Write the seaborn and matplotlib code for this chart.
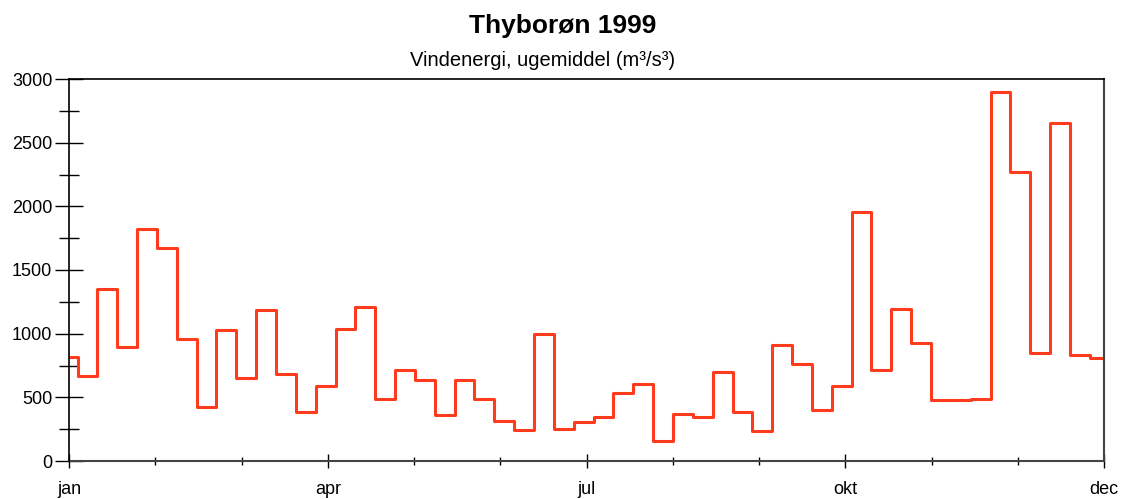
import matplotlib
matplotlib.use("Agg")
import matplotlib.pyplot as plt
import seaborn as sns
import numpy as np
import pandas as pd

# Weekly mean wind energy (m³/s³), Thyborøn 1999; first value is the partial week Jan 1-3
week_values = [813, 671, 1348, 897, 1823, 1671, 962, 425, 1028, 648,
               1185, 687, 383, 587, 1039, 1206, 484, 715, 636, 364,
               636, 484, 317, 243, 997, 251, 306, 348, 537, 605,
               154, 369, 348, 699, 387, 236, 908, 762, 401, 592,
               1953, 715, 1191, 929, 479, 479, 484, 2898, 2267, 846,
               2657, 833, 806]
month_labels = ["jan", "", "", "apr", "", "", "jul", "", "", "okt", "", "", "dec"]
y_ticks = [0, 500, 1000, 1500, 2000, 2500, 3000]

title = "Thyborøn 1999"
subtitle = "Vindenergi, ugemiddel (m³/s³)"

YEAR_DAYS = 365
first_week_start = 3  # ISO week 1 of 1999 starts Jan 4

# step start days
starts = [0] + [first_week_start + 7 * k for k in range(len(week_values) - 1)]
xs = starts + [YEAR_DAYS]
ys = week_values + [week_values[-1]]
df = pd.DataFrame({"day": xs, "value": ys})

sns.set_theme(style="white")
plt.rcParams["font.family"] = ["Liberation Sans", "DejaVu Sans"]
plt.rcParams["text.color"] = "black"
plt.rcParams["xtick.color"] = "black"
plt.rcParams["ytick.color"] = "black"
plt.rcParams["xtick.labelcolor"] = "black"
plt.rcParams["ytick.labelcolor"] = "black"

fig = plt.figure(figsize=(11.26, 4.99), dpi=100)
ax = fig.add_axes([69 / 1126, 1 - 461 / 499, (1104 - 69) / 1126, (461 - 79) / 499])

sns.lineplot(data=df, x="day", y="value", ax=ax, drawstyle="steps-post",
             color="#FF3B1E", linewidth=2.2, sort=False)

ax.set_xlim(0, YEAR_DAYS)
ax.set_ylim(0, 3000)

month_pos = [i * YEAR_DAYS / 12 for i in range(13)]
major_idx = [i for i, l in enumerate(month_labels) if l]
minor_idx = [i for i, l in enumerate(month_labels) if not l]
ax.set_xticks([month_pos[i] for i in major_idx])
ax.set_xticklabels([month_labels[i] for i in major_idx])
ax.set_xticks([month_pos[i] for i in minor_idx], minor=True)

ax.set_yticks(y_ticks)
ax.set_yticklabels([str(v) for v in y_ticks])
ax.set_yticks([v + 250 for v in y_ticks[:-1]], minor=True)

ax.tick_params(axis="y", which="major", direction="inout", length=20, width=1.0,
               colors="black", labelsize=13, pad=2, left=True)
ax.tick_params(axis="y", which="minor", direction="inout", length=14, width=1.0,
               color="black", left=True)
ax.tick_params(axis="x", which="major", direction="inout", length=9.5, width=1.0,
               colors="black", labelsize=13, pad=10, bottom=True)
ax.tick_params(axis="x", which="minor", direction="inout", length=6, width=1.0,
               color="black", bottom=True)

for side in ["left", "top"]:
    ax.spines[side].set_color("black")
    ax.spines[side].set_linewidth(1.2)
for side in ["right", "bottom"]:
    ax.spines[side].set_color("#444444")
    ax.spines[side].set_linewidth(1.5)
ax.spines["left"].set_zorder(3)

ax.set_xlabel("")
ax.set_ylabel("")
ax.grid(False)

fig.text(0.5, 1 - 26 / 499, title, ha="center", va="center",
         fontsize=19, fontweight="bold", color="black")
fig.text(542.5 / 1126, 1 - 60 / 499, subtitle, ha="center", va="center",
         fontsize=14.5, color="black")

fig.savefig("out.png", dpi=100, facecolor="white")
